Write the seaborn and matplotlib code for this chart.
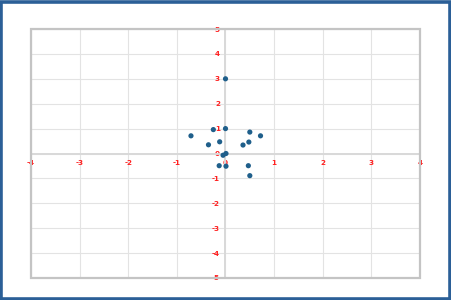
import matplotlib
matplotlib.use("Agg")
import matplotlib.pyplot as plt
import seaborn as sns
import pandas as pd
from matplotlib.patches import Rectangle

x_vals = [0.0, 0.0, -0.71, 0.72, 0.50, -0.25, 0.36, 0.48, -0.35, -0.12,
          0.01, -0.05, -0.13, 0.01, 0.47, 0.50]
y_vals = [3.0, 1.0, 0.71, 0.71, 0.86, 0.96, 0.34, 0.46, 0.35, 0.47,
          0.0, -0.07, -0.49, -0.51, -0.49, -0.89]
x_ticks = [-4, -3, -2, -1, 0, 1, 2, 3, 4]
y_ticks = [-5, -4, -3, -2, -1, 0, 1, 2, 3, 4, 5]

df = pd.DataFrame({"x": x_vals, "y": y_vals})

sns.set_style("white")
fig = plt.figure(figsize=(4.52, 3.00), dpi=100)
ax = fig.add_axes([31/452, 22/300, 389/452, 249/300])

sns.scatterplot(data=df, x="x", y="y", ax=ax, color="#1f5f8b", s=14,
                edgecolor="none", zorder=3)

ax.set_xlim(-4, 4)
ax.set_ylim(-5, 5)
ax.set_xticks(x_ticks)
ax.set_yticks(y_ticks)
ax.set_xticklabels([str(t) for t in x_ticks])
ax.set_yticklabels([str(t) for t in y_ticks])
ax.set_xlabel("")
ax.set_ylabel("")
ax.grid(True, color="#e3e3e3", linewidth=0.8, zorder=0)
ax.set_axisbelow(True)

for side in ["top", "right"]:
    ax.spines[side].set_visible(False)
ax.spines["left"].set_position(("data", 0))
ax.spines["bottom"].set_position(("data", 0))
for side in ["left", "bottom"]:
    ax.spines[side].set_color("#d9d9d9")
    ax.spines[side].set_linewidth(1.4)
    ax.spines[side].set_zorder(1)

ax.tick_params(axis="x", length=0, pad=5, labelsize=5.2, labelcolor="#ff2020")
ax.tick_params(axis="y", length=0, pad=4, labelsize=5.2, labelcolor="#ff2020")
for lab in ax.get_xticklabels() + ax.get_yticklabels():
    lab.set_fontweight("bold")

frame = Rectangle((0, 0), 1, 1, transform=ax.transAxes, fill=False,
                  edgecolor="#c4c4c4", linewidth=1.6, clip_on=False, zorder=2)
ax.add_patch(frame)

border = Rectangle((0.003, 0.005), 0.992, 0.989, transform=fig.transFigure,
                   fill=False, edgecolor="#2b5f97", linewidth=2.6)
fig.patches.append(border)

fig.savefig("out.png", dpi=100)
